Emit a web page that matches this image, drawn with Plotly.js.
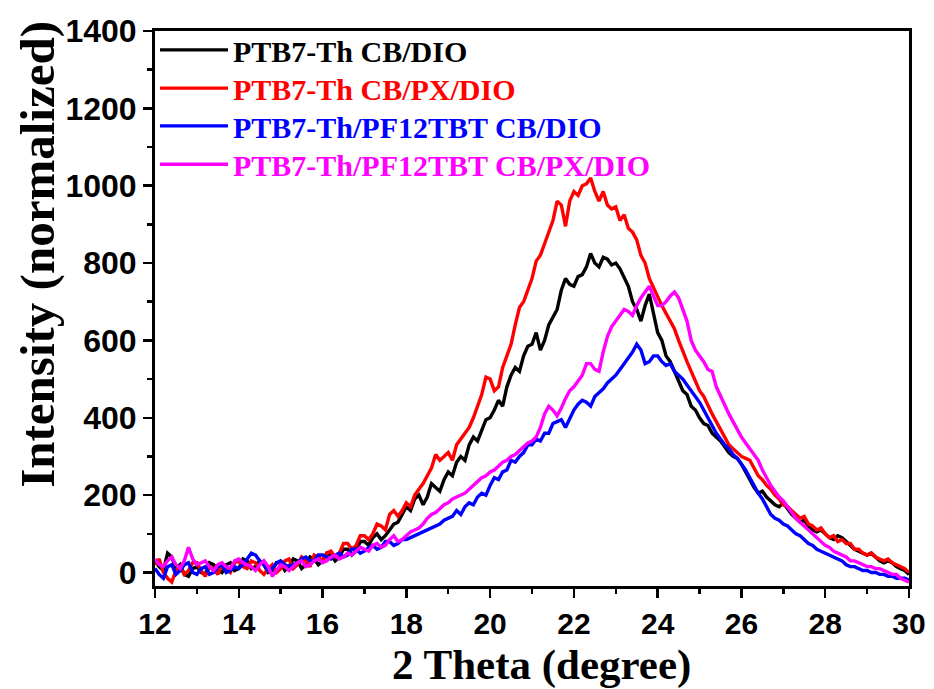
<!DOCTYPE html>
<html>
<head>
<meta charset="utf-8">
<script src="https://cdn.plot.ly/plotly-3.0.1.min.js"></script>
<style>html,body{margin:0;padding:0;background:#fff;}</style>
</head>
<body>
<div id="chart" style="width:934px;height:689px;"></div>
<script>
var twoTheta = [
12.0,12.1,12.2,12.3,12.4,12.5,12.6,12.7,12.8,12.9,13.0,13.1,13.2,13.3,13.4,13.5,13.6,13.7,13.8,13.9,
14.0,14.1,14.2,14.3,14.4,14.5,14.6,14.7,14.8,14.9,15.0,15.1,15.2,15.3,15.4,15.5,15.6,15.7,15.8,15.9,
16.0,16.1,16.2,16.3,16.4,16.5,16.6,16.7,16.8,16.9,17.0,17.1,17.2,17.3,17.4,17.5,17.6,17.7,17.8,17.9,
18.0,18.1,18.2,18.3,18.4,18.5,18.6,18.7,18.8,18.9,19.0,19.1,19.2,19.3,19.4,19.5,19.6,19.7,19.8,19.9,
20.0,20.1,20.2,20.3,20.4,20.5,20.6,20.7,20.8,20.9,21.0,21.1,21.2,21.3,21.4,21.5,21.6,21.7,21.8,21.9,
22.0,22.1,22.2,22.3,22.4,22.5,22.6,22.7,22.8,22.9,23.0,23.1,23.2,23.3,23.4,23.5,23.6,23.7,23.8,23.9,
24.0,24.1,24.2,24.3,24.4,24.5,24.6,24.7,24.8,24.9,25.0,25.1,25.2,25.3,25.4,25.5,25.6,25.7,25.8,25.9,
26.0,26.1,26.2,26.3,26.4,26.5,26.6,26.7,26.8,26.9,27.0,27.1,27.2,27.3,27.4,27.5,27.6,27.7,27.8,27.9,
28.0,28.1,28.2,28.3,28.4,28.5,28.6,28.7,28.8,28.9,29.0,29.1,29.2,29.3,29.4,29.5,29.6,29.7,29.8,29.9,
30.0];

var seriesNames = ["PTB7-Th CB/DIO","PTB7-Th CB/PX/DIO","PTB7-Th/PF12TBT CB/DIO","PTB7-Th/PF12TBT CB/PX/DIO"];
var seriesColors = ["#000000","#ff0000","#0000ff","#ff00ff"];

var cbDio = [
30,15,5,50,40,10,20,-5,-10,10, 15,0,-5,25,20,5,0,20,25,5,
10,35,30,10,15,30,20,0,5,25, 25,5,15,35,30,10,20,40,35,20,
30,50,45,30,40,60,60,45,55,80, 80,70,90,100,85,95,110,125,130,150,
170,160,190,200,175,195,230,220,210,240, 260,250,285,300,290,330,350,340,370,395,
400,420,445,430,480,510,530,520,560,585, 590,620,575,600,640,660,680,730,760,745,
740,765,770,790,825,800,790,815,810,795, 800,785,760,740,700,680,650,690,720,670,
620,600,560,545,520,500,470,460,430,420, 400,385,380,360,350,340,325,310,300,295,
280,260,240,220,205,210,195,185,175,170, 180,165,150,140,130,135,120,110,105,110,
100,90,85,95,90,80,70,60,55,50, 45,50,40,30,25,30,25,15,10,5,
-5];

var cbPxDio = [
20,35,0,-15,-25,5,15,-5,5,25, 25,5,-10,15,10,-5,20,10,0,25,
30,15,10,30,25,5,-5,10,20,0, 10,30,35,10,20,40,30,15,45,40,
30,50,55,40,50,75,75,60,70,95, 95,85,100,125,120,110,150,160,145,160,
180,170,200,215,230,250,270,305,290,300, 310,290,330,345,360,375,400,430,460,505,
500,470,480,530,560,590,640,685,700,730, 760,805,820,850,880,910,960,950,895,960,
985,975,1000,1005,1020,985,960,985,950,940, 945,910,925,890,880,860,820,800,760,735,
710,690,670,650,630,600,570,545,520,495, 470,455,430,410,390,370,350,330,320,310,
300,295,290,270,250,240,225,215,200,190, 175,170,160,150,140,145,125,120,110,115,
100,90,95,80,85,75,75,60,60,50, 45,50,40,35,30,35,25,20,15,10,
0];

var blendCbDio = [
10,-5,-15,15,20,-5,5,20,25,0, -5,10,15,-5,0,15,20,0,5,15,
10,20,35,50,45,30,20,5,10,25, 30,20,15,20,25,35,40,30,30,45,
45,40,35,45,50,40,45,60,60,50, 55,65,70,60,65,80,80,70,75,85,
85,90,95,100,105,110,115,120,125,135, 140,145,160,150,170,180,175,195,205,200,
225,245,240,260,265,290,285,300,310,330, 330,345,340,360,360,385,390,395,375,400,
420,435,445,440,430,455,465,475,490,500, 510,525,540,555,570,590,575,540,545,560,
560,545,535,540,520,510,500,485,470,455, 440,420,400,380,360,345,330,320,305,295,
280,265,245,225,205,190,170,150,140,135, 125,120,110,100,95,85,75,70,60,55,
50,45,40,35,30,20,15,15,10,5, 5,0,0,-5,-5,-10,-10,-15,-15,-15,
-20];

var blendCbPxDio = [
35,20,15,30,40,20,10,30,65,35, 20,25,30,15,5,20,25,15,10,30,
35,25,20,15,5,20,30,15,-10,5, 20,15,5,15,25,30,15,20,30,35,
25,30,40,45,35,40,50,45,55,65, 60,55,70,75,65,70,85,95,80,85,
95,105,110,115,125,140,150,155,165,175, 180,190,195,200,205,215,225,235,245,250,
260,265,275,285,290,300,305,315,325,335, 340,350,375,410,430,420,405,425,450,470,
480,495,510,540,540,525,520,570,610,635, 650,665,680,675,665,690,710,725,740,715,
690,690,700,715,725,710,680,650,600,575, 560,545,525,520,480,455,430,410,390,370,
350,335,320,305,290,265,245,225,210,195, 185,170,155,140,130,120,110,100,90,80,
70,65,55,50,45,40,30,30,25,20, 15,15,10,10,5,0,-5,-5,-15,-20,
-25];

var xTickVals = [12,14,16,18,20,22,24,26,28,30];
var yTickVals = [0,200,400,600,800,1000,1200,1400];

var legendIds = ['legend','legend2','legend3','legend4'];
var legendY = [0.966, 0.897, 0.829, 0.760];

var allY = [cbDio, cbPxDio, blendCbDio, blendCbPxDio];
var traces = allY.map(function(yv, i){
  return {
    x: twoTheta, y: yv, type: 'scatter', mode: 'lines',
    name: '<span style="color:' + seriesColors[i] + '">' + seriesNames[i] + '</span>',
    legend: legendIds[i],
    line: {color: seriesColors[i], width: 3.4}
  };
});

var serif = 'Liberation Serif, Times New Roman, serif';
var sans = 'Liberation Sans, Arial, sans-serif';

var layout = {
  width: 934, height: 689,
  margin: {l: 155, r: 25, t: 31, b: 103},
  paper_bgcolor: '#fff', plot_bgcolor: '#fff',
  showlegend: true,
  xaxis: {
    range: [12, 30], tickvals: xTickVals, ticktext: xTickVals.map(String),
    ticks: 'outside', ticklen: 9, tickwidth: 2.5, tickcolor: '#000',
    minor: {dtick: 1, ticks: 'outside', ticklen: 5, tickwidth: 2.5, tickcolor: '#000'},
    showline: true, linewidth: 3, linecolor: '#000', mirror: true,
    showgrid: false, zeroline: false,
    tickfont: {family: sans, size: 30, color: '#000', weight: 'bold'}
  },
  yaxis: {
    range: [-35, 1400], tickvals: yTickVals, ticktext: yTickVals.map(String),
    ticks: 'outside', ticklen: 9, tickwidth: 2.5, tickcolor: '#000',
    minor: {dtick: 100, ticks: 'outside', ticklen: 5, tickwidth: 2.5, tickcolor: '#000'},
    showline: true, linewidth: 3, linecolor: '#000', mirror: true,
    showgrid: false, zeroline: false,
    tickfont: {family: sans, size: 32, color: '#000', weight: 'bold'}
  },
  annotations: [
    {text: '2 Theta (degree)', xref: 'paper', yref: 'paper', x: 0.513, y: -0.142,
     xanchor: 'center', yanchor: 'middle', showarrow: false,
     font: {family: serif, size: 43, color: '#000', weight: 'bold'}},
    {text: 'Intensity (normalized)', xref: 'paper', yref: 'paper', x: -0.155, y: 0.597,
     xanchor: 'center', yanchor: 'middle', showarrow: false, textangle: -90,
     font: {family: serif, size: 49, color: '#000', weight: 'bold'}}
  ]
};

legendIds.forEach(function(id, i){
  layout[id] = {
    x: 0.0, y: legendY[i], xanchor: 'left', yanchor: 'middle',
    bgcolor: 'rgba(0,0,0,0)', borderwidth: 0,
    font: {family: serif, size: 30, color: '#000', weight: 'bold'},
    itemwidth: 68
  };
});

Plotly.newPlot('chart', traces, layout, {displayModeBar: false, staticPlot: true});
</script>
</body>
</html>
